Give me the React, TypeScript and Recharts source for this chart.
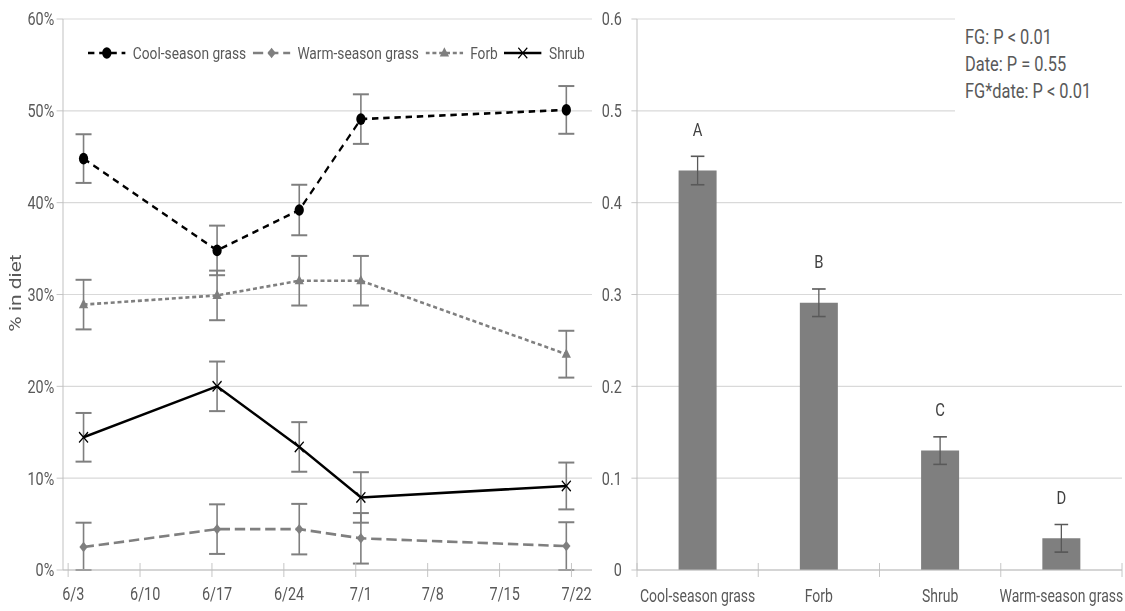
import React from 'react';
import {
  Bar,
  BarChart,
  CartesianGrid,
  ErrorBar,
  LabelList,
  Line,
  LineChart,
  XAxis,
  YAxis,
} from 'recharts';

/* ───────────── data: left panel (% in diet by sampling date) ───────────── */

// x values are days after 6/3
const dateTicks = [0, 7, 14, 21, 28, 35, 42, 49];
const dateLabels = ['6/3', '6/10', '6/17', '6/24', '7/1', '7/8', '7/15', '7/22'];
const sampleDays = [1, 14, 22, 28, 48];

const coolSeason = [44.8, 34.8, 39.2, 49.1, 50.1];
const coolSeasonSE = [2.65, 2.7, 2.75, 2.7, 2.6];
const warmSeason = [2.5, 4.45, 4.45, 3.45, 2.6];
const warmSeasonSE = [2.65, 2.7, 2.75, 2.75, 2.6];
const forb = [28.9, 29.9, 31.5, 31.5, 23.5];
const forbSE = [2.7, 2.7, 2.7, 2.7, 2.55];
const shrub = [14.45, 20.0, 13.4, 7.9, 9.15];
const shrubSE = [2.65, 2.7, 2.7, 2.75, 2.55];

const pctTicks = [0, 10, 20, 30, 40, 50, 60];

/* ───────────── data: right panel (mean proportion by functional group) ───────────── */

const groups = ['Cool-season grass', 'Forb', 'Shrub', 'Warm-season grass'];
const groupMeans = [0.435, 0.291, 0.13, 0.0345];
const groupSE = [0.0155, 0.015, 0.015, 0.015];
const groupLetters = ['A', 'B', 'C', 'D'];
const propTicks = [0, 0.1, 0.2, 0.3, 0.4, 0.5, 0.6];

const statLines = ['FG: P < 0.01', 'Date: P = 0.55', 'FG*date: P < 0.01'];

/* ───────────── layout (inner units, squeezed horizontally by SX) ───────────── */

const SX = 0.8;
const W = 1125 / SX;
const H = 611;
const LEFT_W = 740;
const LEFT_AXIS_W = 78.75;
const RIGHT_W = W - LEFT_W;
const RIGHT_AXIS_W = 56.25;
const RIGHT_MARGIN = 3.75;
const BAND = (RIGHT_W - RIGHT_AXIS_W - RIGHT_MARGIN) / groups.length;
const X_DOMAIN: [number, number] = [-1, 50.5];
const HALF_DAY = (LEFT_W - LEFT_AXIS_W) / (X_DOMAIN[1] - X_DOMAIN[0]) / 2;

const FONT = 'Roboto, "Noto Sans", sans-serif';
const TXT = '#595959';
const GRID = '#d9d9d9';
const AXIS = '#bfbfbf';
const GREY = '#7f7f7f';

// error bars stop at the 0% floor, like the original
const clampErr = (v: number, se: number) => [Math.min(se, v), se];

const lineRows = sampleDays.map((day, i) => ({
  day,
  cool: coolSeason[i],
  coolSE: clampErr(coolSeason[i], coolSeasonSE[i]),
  warm: warmSeason[i],
  warmSE: clampErr(warmSeason[i], warmSeasonSE[i]),
  forb: forb[i],
  forbSE: clampErr(forb[i], forbSE[i]),
  shrub: shrub[i],
  shrubSE: clampErr(shrub[i], shrubSE[i]),
}));

const barRows = groups.map((group, i) => ({
  group,
  mean: groupMeans[i],
  se: groupSE[i],
  letter: groupLetters[i],
}));

/* ───────────── markers ───────────── */

const circleDot = (p: any) => <circle key={`c${p.index}`} cx={p.cx} cy={p.cy} r={5.8} fill="#000" />;

const diamondDot = (p: any) => (
  <polygon
    key={`d${p.index}`}
    points={`${p.cx},${p.cy - 5.2} ${p.cx + 5.2},${p.cy} ${p.cx},${p.cy + 5.2} ${p.cx - 5.2},${p.cy}`}
    fill={GREY}
  />
);

const triangleDot = (p: any) => (
  <polygon
    key={`t${p.index}`}
    points={`${p.cx},${p.cy - 5.8} ${p.cx + 5.8},${p.cy + 3.6} ${p.cx - 5.8},${p.cy + 3.6}`}
    fill={GREY}
  />
);

const crossDot = (p: any) => (
  <path
    key={`x${p.index}`}
    d={`M${p.cx - 5.6},${p.cy - 5.2}L${p.cx + 5.6},${p.cy + 5.2}M${p.cx + 5.6},${p.cy - 5.2}L${p.cx - 5.6},${p.cy + 5.2}`}
    stroke="#000"
    strokeWidth={1.5}
    fill="none"
  />
);

/* ───────────── ticks ───────────── */

function DateTick({ x, y, payload }: any) {
  const i = dateTicks.indexOf(payload.value);
  return (
    <g>
      <line x1={x - HALF_DAY} x2={x - HALF_DAY} y1={y - 7} y2={y + 7} stroke={AXIS} />
      <text x={x} y={y + 30} textAnchor="middle" fill={TXT} fontSize={18}>
        {dateLabels[i]}
      </text>
    </g>
  );
}

function PctTick({ x, y, payload }: any) {
  return (
    <g>
      <line x1={x - 8} x2={x} y1={y} y2={y} stroke={AXIS} />
      <text x={x - 11} y={y} dy="0.36em" textAnchor="end" fill={TXT} fontSize={18}>
        {`${payload.value}%`}
      </text>
    </g>
  );
}

function PropTick({ x, y, payload }: any) {
  const v = payload.value as number;
  return (
    <g>
      <line x1={x - 7} x2={x} y1={y} y2={y} stroke={AXIS} />
      <text x={x - 19} y={y} dy="0.36em" textAnchor="end" fill={TXT} fontSize={18}>
        {v === 0 ? '0' : v.toFixed(1)}
      </text>
    </g>
  );
}

function GroupTick({ x, y, payload, index }: any) {
  return (
    <g>
      <line x1={x - BAND / 2} x2={x - BAND / 2} y1={y - 7} y2={y + 7} stroke={AXIS} />
      {index === groups.length - 1 && (
        <line x1={x + BAND / 2} x2={x + BAND / 2} y1={y - 7} y2={y + 7} stroke={AXIS} />
      )}
      <text x={x} y={y + 32} textAnchor="middle" fill={TXT} fontSize={17.5}>
        {payload.value}
      </text>
    </g>
  );
}

const letterLabel = (p: any) => (
  <text
    key={`l${p.index}`}
    x={p.x + p.width / 2}
    y={p.y - 41}
    dy="0.36em"
    textAnchor="middle"
    fill="#404040"
    fontSize={18.5}
  >
    {p.value}
  </text>
);

/* ───────────── legend (left panel) ───────────── */

interface LegendItem {
  label: string;
  color: string;
  dash?: string;
  marker: (cx: number, cy: number) => React.ReactNode;
}

const legendItems: LegendItem[] = [
  { label: 'Cool-season grass', color: '#000', dash: '8 6', marker: (cx, cy) => circleDot({ cx, cy, index: 0 }) },
  { label: 'Warm-season grass', color: GREY, dash: '13 6', marker: (cx, cy) => diamondDot({ cx, cy, index: 0 }) },
  { label: 'Forb', color: GREY, dash: '5 3.5', marker: (cx, cy) => triangleDot({ cx, cy, index: 0 }) },
  { label: 'Shrub', color: '#000', marker: (cx, cy) => crossDot({ cx, cy, index: 0 }) },
];

function LineLegend() {
  return (
    <div
      style={{
        position: 'absolute',
        left: 110,
        top: 42,
        height: 22,
        display: 'flex',
        alignItems: 'center',
        whiteSpace: 'nowrap',
        fontSize: 17.2,
        color: TXT,
      }}
    >
      {legendItems.map((it) => (
        <div key={it.label} style={{ display: 'flex', alignItems: 'center', marginRight: 8 }}>
          <svg width={47} height={16} style={{ marginRight: 9 }}>
            <line x1={0} x2={47} y1={8} y2={8} stroke={it.color} strokeWidth={2.6} strokeDasharray={it.dash} />
            {it.marker(23.5, 8)}
          </svg>
          <span>{it.label}</span>
        </div>
      ))}
    </div>
  );
}

/* ───────────── page ───────────── */

export default function App() {
  return (
    <div
      style={{
        position: 'relative',
        width: 1125,
        height: H,
        overflow: 'hidden',
        background: '#fff',
        fontFamily: FONT,
      }}
    >
      <style>{'body{margin:0}'}</style>
      <div
        style={{
          position: 'absolute',
          left: 0,
          top: 0,
          width: W,
          height: H,
          transform: `scaleX(${SX})`,
          transformOrigin: '0 0',
        }}
      >
        <div style={{ position: 'absolute', left: 0, top: 0 }}>
          <LineChart width={LEFT_W} height={H} data={lineRows} margin={{ top: 19, right: 0, bottom: 0, left: 0 }}>
            <CartesianGrid vertical={false} stroke={GRID} strokeWidth={1.2} />
            <XAxis
              type="number"
              dataKey="day"
              domain={X_DOMAIN}
              ticks={dateTicks}
              interval={0}
              allowDataOverflow
              height={41}
              tickSize={0}
              tickMargin={0}
              tickLine={false}
              axisLine={{ stroke: AXIS, strokeWidth: 1.2 }}
              tick={<DateTick />}
            />
            <YAxis
              type="number"
              domain={[0, 60]}
              ticks={pctTicks}
              allowDataOverflow
              width={LEFT_AXIS_W}
              tickSize={0}
              tickMargin={0}
              tickLine={false}
              axisLine={{ stroke: AXIS, strokeWidth: 1.2 }}
              tick={<PctTick />}
            />
            <Line
              type="linear"
              dataKey="warm"
              stroke={GREY}
              strokeWidth={2.6}
              strokeDasharray="13 6"
              dot={diamondDot}
              activeDot={false}
              isAnimationActive={false}
            >
              <ErrorBar dataKey="warmSE" direction="y" width={10} stroke={GREY} strokeWidth={2} isAnimationActive={false} />
            </Line>
            <Line
              type="linear"
              dataKey="forb"
              stroke={GREY}
              strokeWidth={2.6}
              strokeDasharray="5 3.5"
              dot={triangleDot}
              activeDot={false}
              isAnimationActive={false}
            >
              <ErrorBar dataKey="forbSE" direction="y" width={10} stroke={GREY} strokeWidth={2} isAnimationActive={false} />
            </Line>
            <Line
              type="linear"
              dataKey="cool"
              stroke="#000"
              strokeWidth={2.6}
              strokeDasharray="8 6"
              dot={circleDot}
              activeDot={false}
              isAnimationActive={false}
            >
              <ErrorBar dataKey="coolSE" direction="y" width={10} stroke={GREY} strokeWidth={2} isAnimationActive={false} />
            </Line>
            <Line
              type="linear"
              dataKey="shrub"
              stroke="#000"
              strokeWidth={2.6}
              dot={crossDot}
              activeDot={false}
              isAnimationActive={false}
            >
              <ErrorBar dataKey="shrubSE" direction="y" width={10} stroke={GREY} strokeWidth={2} isAnimationActive={false} />
            </Line>
          </LineChart>
        </div>

        <div style={{ position: 'absolute', left: LEFT_W, top: 0 }}>
          <BarChart
            width={RIGHT_W}
            height={H}
            data={barRows}
            barSize={47.5}
            margin={{ top: 19, right: RIGHT_MARGIN, bottom: 0, left: 0 }}
          >
            <CartesianGrid vertical={false} stroke={GRID} strokeWidth={1.2} />
            <XAxis
              dataKey="group"
              interval={0}
              height={41}
              tickSize={0}
              tickMargin={0}
              tickLine={false}
              axisLine={{ stroke: AXIS, strokeWidth: 1.2 }}
              tick={<GroupTick />}
            />
            <YAxis
              type="number"
              domain={[0, 0.6]}
              ticks={propTicks}
              width={RIGHT_AXIS_W}
              tickSize={0}
              tickMargin={0}
              tickLine={false}
              axisLine={{ stroke: AXIS, strokeWidth: 1.2 }}
              tick={<PropTick />}
            />
            <Bar dataKey="mean" fill={GREY} isAnimationActive={false}>
              <ErrorBar dataKey="se" direction="y" width={8.5} stroke="#595959" strokeWidth={1.6} isAnimationActive={false} />
              <LabelList dataKey="letter" content={letterLabel} />
            </Bar>
          </BarChart>
        </div>

        {/* axis title and the statistics box */}
        <svg
          width={W}
          height={H}
          style={{ position: 'absolute', left: 0, top: 0, pointerEvents: 'none' }}
        >
          <text
            x={18.75}
            y={293}
            dy="0.35em"
            transform="rotate(-90 18.75 293)"
            textAnchor="middle"
            fill={TXT}
            fontSize={21}
          >
            % in diet
          </text>
          <rect x={955 / SX} y={0} width={W - 955 / SX} height={120} fill="#fff" />
          {statLines.map((s, i) => (
            <text key={s} x={965 / SX} y={44 + i * 27} fill={TXT} fontSize={20.5}>
              {s}
            </text>
          ))}
        </svg>

        <LineLegend />
      </div>
    </div>
  );
}
